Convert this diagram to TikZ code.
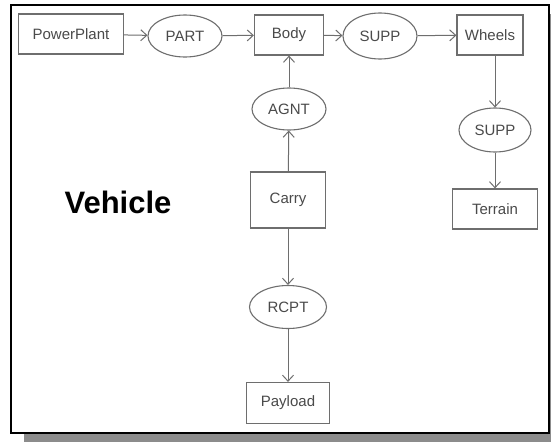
\documentclass[tikz,border=0pt]{standalone}
\usepackage{fontspec}
\setmainfont{Liberation Sans}
\usetikzlibrary{shapes.geometric,arrows.meta}
\definecolor{edgegray}{HTML}{6E6E6E}
\definecolor{textgray}{HTML}{4A4A4A}
\definecolor{shadowgray}{HTML}{8C8C8C}
\begin{document}
\begin{tikzpicture}[x=1pt,y=-1pt,
  concept/.style={draw=edgegray,line width=1.2pt,rectangle,minimum width=#1,minimum height=40pt,inner sep=0pt,
    font=\fontsize{15}{17}\selectfont,text=textgray},
  relation/.style={draw=edgegray,line width=1.1pt,ellipse,minimum width=#1,minimum height=44pt,inner sep=0pt,
    font=\fontsize{15}{17}\selectfont,text=textgray},
  link/.style={draw=edgegray,line width=1pt,-{Straight Barb[length=6pt,width=11pt,line width=1pt]}}]
\useasboundingbox (0,0) rectangle (551,442);
% drop shadow and frame
\fill[shadowgray] (24,14) rectangle (560,442);
\draw[black,line width=2pt,fill=white] (11,5) rectangle (549,433);
% concept boxes
\node[concept=105pt] (power) at (71,34) {PowerPlant};
\node[concept=69pt] (body) at (289,35) {Body};
\node[concept=66pt] (wheels) at (490,35) {Wheels};
\node[concept=75pt,minimum height=55pt] (carry) at (288,200) {Carry};
\node[concept=85pt] (terrain) at (495,209) {Terrain};
\node[concept=83pt,minimum height=41pt] (payload) at (288,403) {Payload};
\draw[edgegray,line width=2.2pt] (carry.north west) -- (carry.north east);
\draw[edgegray,line width=2.2pt] (carry.south west) -- (carry.south east);
% relation ellipses
\node[relation=74pt,minimum height=42pt] (part) at (185,36) {PART};
\node[relation=74pt,minimum height=46pt] (supp) at (380,36) {SUPP};
\node[relation=74pt,minimum height=42pt] (agnt) at (289,109) {AGNT};
\node[relation=72pt] (supptwo) at (495,130) {SUPP};
\node[relation=77pt,minimum height=43pt] (rcpt) at (288,307) {RCPT};
% label
\node[anchor=base,font=\fontsize{31}{36}\selectfont\bfseries] (title) at (118,213) {Vehicle};
% connectors
\draw[link] (power) -- (part);
\draw[link] (part) -- (body);
\draw[link] (body) -- (supp);
\draw[link] (supp) -- (wheels);
\draw[link] (agnt) -- (body);
\draw[link] (carry) -- (agnt);
\draw[link] (carry) -- (rcpt);
\draw[link] (rcpt) -- (payload);
\draw[link] (wheels.south -| supptwo.north) -- (supptwo);
\draw[link] (supptwo) -- (terrain);
\end{tikzpicture}
\end{document}
